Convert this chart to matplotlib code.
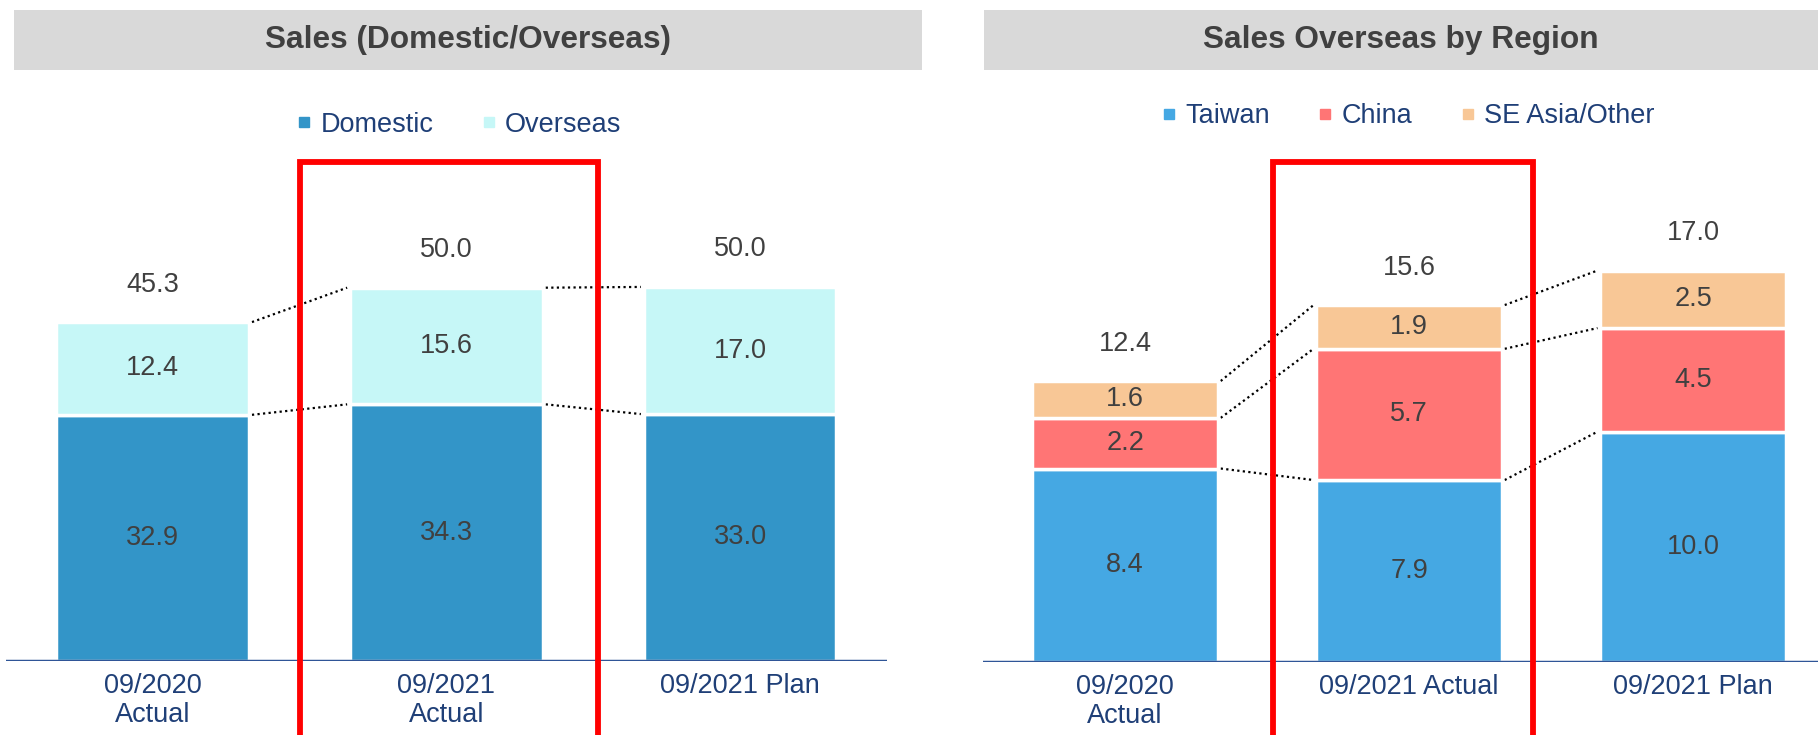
import matplotlib.pyplot as plt
import matplotlib.transforms as mtransforms
from matplotlib.lines import Line2D
from matplotlib.patches import Rectangle
import numpy as np

plt.rcParams['font.family'] = ['Liberation Sans', 'DejaVu Sans']

# --- data ---
periods_left = ["09/2020\nActual", "09/2021\nActual", "09/2021 Plan"]
domestic = [32.9, 34.3, 33.0]
overseas = [12.4, 15.6, 17.0]
totals_left = [45.3, 50.0, 50.0]

periods_right = ["09/2020\nActual", "09/2021 Actual", "09/2021 Plan"]
taiwan = [8.4, 7.9, 10.0]
china = [2.2, 5.7, 4.5]
se_asia = [1.6, 1.9, 2.5]
totals_right = [12.4, 15.6, 17.0]

TEXT_GRAY = "#404040"
TICK_BLUE = "#1F3F77"
AXIS_BLUE = "#2F5597"


def draw_stacked(ax, labels, series, colors, totals, width, xlim, ymax, box):
    x = np.arange(len(labels))
    bottom = np.zeros(len(labels))
    levels = []
    for vals, col in zip(series, colors):
        vals = np.array(vals)
        ax.bar(x, vals, width, bottom=bottom, color=col, edgecolor="white", linewidth=2.5, zorder=2)
        for xi, b, v in zip(x, bottom, vals):
            ax.text(xi, b + v / 2, f"{v:.1f}", ha="center", va="center",
                    fontsize=19.5, color=TEXT_GRAY, zorder=3)
        bottom = bottom + vals
        levels.append(bottom.copy())

    # totals above the stacks
    for xi, top, t in zip(x, bottom, totals):
        ax.annotate(f"{t:.1f}", xy=(xi, top), xytext=(0, 27), textcoords="offset points",
                    ha="center", va="center", fontsize=19.5, color=TEXT_GRAY)

    # dotted connectors between neighbouring bars
    for lev in levels:
        for i in range(len(x) - 1):
            ax.plot([x[i] + width / 2 + 0.01, x[i + 1] - width / 2 - 0.01], [lev[i], lev[i + 1]],
                    ls=(0, (1, 1.5)), color="black", lw=1.6, zorder=1)

    ax.set_xlim(*xlim)
    ax.set_ylim(0, ymax)
    ax.set_xticks(x)
    ax.set_xticklabels(labels, fontsize=19.5, color=TICK_BLUE, linespacing=1.15)
    ax.tick_params(axis="x", length=0, pad=9)
    ax.set_yticks([])
    for s in ax.spines.values():
        s.set_visible(False)
    ax.axhline(0, color=AXIS_BLUE, lw=2.5, zorder=4)

    # red highlight box around the current-year column
    trans = mtransforms.blended_transform_factory(ax.transData, ax.transAxes)
    ax.add_patch(Rectangle((box[0], -0.5), box[1] - box[0], 1.5, transform=trans,
                           fill=False, edgecolor="#FF0000", lw=4.2, clip_on=False, zorder=5))


def title_bar(fig, x0, x1, text):
    fig.patches.append(Rectangle((x0, 0.905), x1 - x0, 0.082, transform=fig.transFigure,
                                 facecolor="#D9D9D9", edgecolor="none", zorder=0))
    fig.text((x0 + x1) / 2, 0.946, text, ha="center", va="center",
             fontsize=22.8, fontweight="bold", color=TEXT_GRAY)


def legend(fig, names, colors, cx, cy):
    handles = [Line2D([], [], marker="s", ls="", color=c, markersize=7.5) for c in colors]
    fig.legend(handles, names, loc="center", bbox_to_anchor=(cx, cy), ncol=len(names),
               frameon=False, columnspacing=1.7, handletextpad=0.25, handlelength=0.7,
               fontsize=19.5, labelcolor=TICK_BLUE)


fig = plt.figure(figsize=(18.18, 7.35), dpi=100)

# left panel: domestic / overseas
ax1 = fig.add_axes([0.0032, 0.1009, 0.4847, 0.6783])
draw_stacked(ax1, periods_left, [domestic, overseas], ["#3395C8", "#C6F7F7"], totals_left,
             0.656, (-0.5, 2.5), 66.67, (0.5, 1.515))
title_bar(fig, 0.0077, 0.507, "Sales (Domestic/Overseas)")
legend(fig, ["Domestic", "Overseas"], ["#3395C8", "#C6F7F7"], 0.252, 0.830)

# right panel: overseas by region
ax2 = fig.add_axes([0.5408, 0.0994, 0.4592, 0.6798])
draw_stacked(ax2, periods_right, [taiwan, china, se_asia], ["#45A8E3", "#FF7575", "#F8C796"],
             totals_right, 0.653, (-0.5, 2.44), 21.7, (0.522, 1.437))
title_bar(fig, 0.541, 1.0, "Sales Overseas by Region")
legend(fig, ["Taiwan", "China", "SE Asia/Other"], ["#45A8E3", "#FF7575", "#F8C796"], 0.774, 0.842)

fig.savefig("out.png", dpi=100)
